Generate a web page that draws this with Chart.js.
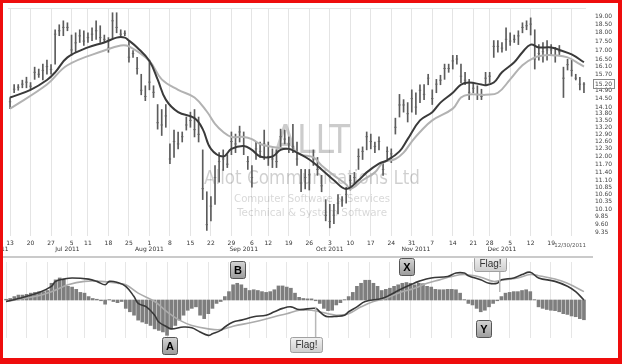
<!DOCTYPE html>
<html>
<head>
<meta charset="utf-8">
<script src="https://cdn.jsdelivr.net/npm/chart.js@4.4.0/dist/chart.umd.min.js"></script>
<style>
  html, body { margin: 0; padding: 0; }
  body { width: 622px; height: 364px; background: #ee0d0d; position: relative; overflow: hidden; }
  #frame { position: absolute; left: 3px; top: 3px; width: 615px; height: 355px; background: #fff; }
  #priceChart { position: absolute; left: 0; top: 0; }
  #sep { position: absolute; left: 0; top: 253px; width: 590px; height: 2px; background: #cacaca; }
  #macdChart { position: absolute; left: 0; top: 255px; }
</style>
</head>
<body>
<div id="frame">
  <canvas id="priceChart" width="615" height="254"></canvas>
  <div id="sep"></div>
  <canvas id="macdChart" width="615" height="100"></canvas>
</div>
<script>
// trading days, Jun 13 - Dec 30 2011
const junDays = [13,14,15,16,17,20,21,22,23,24,27,28,29,30];
const julDays = [1,5,6,7,8,11,12,13,14,15,18,19,20,21,22,25,26,27,28,29];
const augDays = [1,2,3,4,5,8,9,10,11,12,15,16,17,18,19,22,23,24,25,26,29,30,31];
const sepDays = [1,2,6,7,8,9,12,13,14,15,16,19,20,21,22,23,26,27,28,29,30];
const octDays = [3,4,5,6,7,10,11,12,13,14,17,18,19,20,21,24,25,26,27,28,31];
const novDays = [1,2,3,4,7,8,9,10,11,14,15,16,17,18,21,22,23,25,28,29,30];
const decDays = [1,2,5,6,7,8,9,12,13,14,15,16,19,20,21,22,23,27,28,29,30];

const dates = [].concat(
    junDays.map(d => 'Jun ' + d),
    julDays.map(d => 'Jul ' + d),
    augDays.map(d => 'Aug ' + d),
    sepDays.map(d => 'Sep ' + d),
    octDays.map(d => 'Oct ' + d),
    novDays.map(d => 'Nov ' + d),
    decDays.map(d => 'Dec ' + d)
);

// axis labels
const dayTickIdx = [0,5,10,15,19,24,29,34,39,44,49,54,59,63,68,73,78,83,88,93,98,103,108,113,117,122,127,132,137];
const dayTickLabels = ['13','20','27','5','11','18','25','1','8','15','22','29','6','12','19','26','3','10','17','24','31','7','14','21','28','5','12','19',''];
const monthTickIdx = [14,34,57,78,99,120];
const monthTickLabels = ['Jul 2011','Aug 2011','Sep 2011','Oct 2011','Nov 2011','Dec 2011'];
const yTicks = [19.00,18.50,18.00,17.50,17.00,16.50,16.10,15.70,15.20,14.90,14.50,14.10,13.80,13.50,13.20,12.90,12.60,12.30,12.00,11.70,11.40,11.10,10.85,10.60,10.35,10.10,9.85,9.60,9.35];

// daily price bars
const highs = [14.55,15.18,15.18,15.40,15.55,15.28,16.07,15.97,16.23,16.44,
    16.20,18.16,18.46,18.70,18.58,17.85,17.98,18.16,18.10,17.98,
    18.28,18.70,18.40,17.85,17.70,19.20,19.20,18.16,18.10,17.53,
    16.97,16.59,15.70,15.12,16.44,15.12,14.22,13.99,14.22,12.50,
    13.08,13.00,13.00,13.65,13.87,13.99,13.65,12.26,10.69,10.52,
    11.65,12.15,12.26,12.07,13.00,12.91,13.25,13.00,12.00,11.65,
    12.58,12.58,13.08,12.58,12.30,12.26,13.12,13.08,12.79,13.33,
    12.58,11.50,11.50,11.50,12.26,11.96,11.28,10.42,10.26,10.26,
    10.59,10.52,10.85,11.28,11.39,12.30,12.38,13.00,12.91,12.58,
    12.79,11.76,12.38,12.30,13.60,14.70,14.45,14.31,14.92,14.78,
    15.17,15.18,15.70,14.92,15.44,15.65,16.23,16.23,16.70,16.70,
    16.23,15.80,15.44,15.28,15.12,14.95,15.80,15.80,17.53,17.53,
    17.42,18.28,17.98,17.85,18.10,18.58,18.70,18.88,18.16,17.30,
    17.42,17.53,17.30,17.14,17.25,16.07,16.49,16.44,15.70,15.54,
    15.28];
const lows = [14.03,14.78,14.90,15.02,15.02,14.95,15.44,15.54,15.41,15.70,
    15.70,16.23,17.81,17.81,18.10,16.70,16.87,17.42,17.25,17.42,
    17.53,17.60,17.42,17.42,16.87,17.60,17.98,17.70,17.81,16.33,
    16.59,15.70,14.68,14.40,14.92,14.55,13.12,12.85,13.20,11.72,
    11.96,12.30,12.58,13.08,13.20,12.79,12.58,10.42,9.42,9.72,
    10.26,11.03,11.46,11.57,12.07,12.15,12.58,12.07,11.50,10.85,
    11.88,11.96,11.88,11.65,11.57,11.57,12.30,12.50,12.15,12.15,
    11.65,10.69,10.79,10.75,11.65,11.28,10.69,9.72,9.50,9.63,
    9.94,10.19,10.30,10.75,10.95,11.50,11.88,12.26,12.30,12.15,
    12.26,11.28,11.88,11.76,12.91,13.65,13.87,13.43,13.87,13.77,
    14.31,14.45,15.17,14.22,14.78,15.17,15.44,15.80,15.97,16.23,
    15.28,15.17,14.45,14.78,14.45,14.45,15.17,15.28,16.59,16.87,
    16.87,16.97,17.25,17.42,17.30,17.98,18.16,17.85,15.97,16.44,
    16.33,16.44,16.75,16.33,16.70,14.55,15.92,15.60,15.41,14.92,
    14.78];
const closes = [14.35,14.95,15.05,15.20,15.30,15.10,15.80,15.70,15.90,16.10,
    15.95,17.90,18.10,18.30,18.30,17.00,17.40,17.80,17.50,17.70,
    17.90,18.10,17.70,17.60,17.10,18.70,18.30,17.90,17.95,16.60,
    16.80,16.00,14.90,14.60,15.30,14.80,13.40,13.30,13.70,11.90,
    12.60,12.50,12.80,13.30,13.50,13.10,12.90,10.80,9.60,10.20,
    11.20,11.80,11.90,11.70,12.60,12.50,13.00,12.40,11.80,11.20,
    12.30,12.20,12.50,12.00,11.90,11.80,12.80,12.70,12.50,12.40,
    11.90,11.00,11.20,11.30,11.90,11.50,10.90,9.90,9.70,9.90,
    10.30,10.40,10.60,11.10,11.20,12.00,12.20,12.80,12.60,12.40,
    12.60,11.50,12.20,12.10,13.20,14.20,14.20,13.80,14.50,14.10,
    14.90,14.70,15.50,14.50,15.20,15.40,16.00,16.00,16.40,16.50,
    15.60,15.40,14.80,15.00,14.70,14.60,15.50,15.60,17.20,17.20,
    17.10,17.60,17.50,17.60,17.80,18.30,18.40,18.50,16.50,16.80,
    16.90,17.00,17.00,16.70,16.90,15.50,16.20,15.90,15.50,15.20,
    15.20];

// moving averages (day index, price)
const fastMaDay = [0,5,9,11,14,19,23,26,28,29,31,34,36,38,41,45,47,49,52,54,57,59,61,64,66,68,70,73,76,79,82,85,87,90,92,95,97,100,103,105,108,110,112,115,116,118,120,123,125,127,129,132,134,137,140];
const fastMaVal = [14.55,14.92,15.41,15.80,16.59,17.14,17.42,17.70,17.70,17.53,17.14,16.40,15.44,14.45,13.87,13.60,13.12,12.30,12.00,12.30,12.42,12.26,12.00,12.00,12.26,12.30,12.15,11.88,11.50,11.10,10.79,11.10,11.39,11.72,11.85,12.20,12.70,13.50,13.87,14.31,14.78,15.18,15.28,15.18,15.15,15.28,15.80,16.33,16.87,17.30,17.14,17.14,17.00,16.75,16.33];
const slowMaDay = [0,9,14,23,27,29,34,37,41,45,48,50,52,54,57,59,61,64,69,71,74,76,79,82,83,86,89,91,94,96,98,100,103,108,110,112,115,116,119,122,125,128,130,133,136,139,140];
const slowMaVal = [14.03,15.18,16.17,16.97,17.25,17.20,16.40,15.44,14.92,14.55,13.90,13.35,13.00,12.79,12.79,12.70,12.50,12.38,12.26,12.07,11.96,11.65,11.28,10.95,10.79,11.10,11.39,11.76,11.90,12.15,12.60,13.00,13.50,14.03,14.55,14.70,14.68,14.68,14.78,15.44,16.17,16.59,16.70,16.70,16.59,16.23,16.10];

// MACD panel
const histVals = [0.02,0.04,0.09,0.13,0.13,0.15,0.18,0.20,0.22,0.22,
    0.25,0.44,0.53,0.58,0.55,0.36,0.34,0.28,0.20,0.18,
    0.09,0.04,0.02,-0.02,-0.11,0.01,-0.04,-0.07,-0.04,-0.22,
    -0.31,-0.40,-0.53,-0.58,-0.62,-0.67,-0.76,-0.80,-0.84,-0.93,
    -0.76,-0.67,-0.53,-0.40,-0.27,-0.22,-0.18,-0.40,-0.49,-0.36,
    -0.22,-0.09,-0.04,0.09,0.22,0.40,0.44,0.40,0.31,0.25,
    0.27,0.25,0.22,0.20,0.22,0.27,0.37,0.37,0.34,0.31,
    0.18,0.07,0.04,0.03,0.03,-0.02,-0.09,-0.22,-0.28,-0.27,
    -0.13,-0.07,0.01,0.09,0.20,0.36,0.44,0.52,0.52,0.44,
    0.36,0.25,0.28,0.31,0.36,0.40,0.44,0.46,0.44,0.40,
    0.44,0.43,0.36,0.34,0.28,0.27,0.27,0.28,0.28,0.27,
    0.18,0.01,-0.09,-0.13,-0.22,-0.31,-0.27,-0.18,-0.09,-0.02,
    0.09,0.18,0.20,0.22,0.22,0.25,0.27,0.22,0.01,-0.18,
    -0.22,-0.25,-0.27,-0.28,-0.31,-0.36,-0.38,-0.42,-0.44,-0.49,
    -0.52];
const macdDay = [0,3,8,11,12,14,16,20,22,24,25,27,29,31,32,34,36,37,39,40,43,45,47,49,50,52,53,55,57,60,63,65,67,69,71,75,76,77,78,80,82,83,85,87,91,93,95,98,100,103,107,109,111,112,115,117,119,120,123,125,127,129,133,136,138,140];
const macdVal = [-0.04,0.04,0.20,0.36,0.49,0.55,0.58,0.55,0.49,0.40,0.49,0.46,0.36,0.09,-0.09,-0.18,-0.40,-0.58,-0.71,-0.76,-0.71,-0.73,-0.84,-0.93,-0.89,-0.80,-0.71,-0.58,-0.53,-0.44,-0.40,-0.31,-0.22,-0.18,-0.25,-0.22,-0.31,-0.40,-0.44,-0.43,-0.40,-0.31,-0.18,-0.04,0.04,0.13,0.25,0.40,0.49,0.58,0.62,0.71,0.71,0.64,0.53,0.44,0.44,0.53,0.58,0.67,0.73,0.58,0.49,0.36,0.22,0.00];
const signalDay = [0,7,11,15,19,23,27,29,32,36,39,42,45,49,52,55,60,65,68,71,74,78,80,83,86,89,92,95,99,102,105,108,111,115,118,120,124,127,129,133,136,140];
const signalVal = [-0.04,0.09,0.22,0.40,0.49,0.49,0.44,0.40,0.18,-0.04,-0.31,-0.53,-0.67,-0.76,-0.78,-0.69,-0.58,-0.44,-0.36,-0.27,-0.27,-0.36,-0.40,-0.36,-0.18,-0.04,0.04,0.18,0.31,0.44,0.53,0.62,0.67,0.60,0.49,0.52,0.58,0.67,0.64,0.55,0.44,0.22];

// chart notes on the MACD panel
const noteText = ['A','B','Flag!','X','Flag!','Y'];
const noteDay = [39.5,56,72.6,97.1,117.2,115.7];
const noteVal = [-1.21,0.79,-1.18,0.89,0.95,-0.76];
const noteTipDay = [null,null,75,null,119.6,null];
const noteTipVal = [null,null,-0.18,null,0.21,null];

function sparse(days, vals) {
    const out = dates.map(() => null);
    days.forEach((d, k) => { out[d] = vals[k]; });
    return out;
}

const weekSet = new Set(dayTickIdx);
const dayLabelOf = {};
dayTickIdx.forEach((d, k) => { dayLabelOf[d] = dayTickLabels[k]; });
const monthLabelOf = {};
monthTickIdx.forEach((d, k) => { monthLabelOf[d] = monthTickLabels[k]; });
const axisTickIdx = Array.from(new Set(dayTickIdx.concat(monthTickIdx))).sort((a, b) => a - b);

const smallFont = { family: 'DejaVu Sans', size: 6, lineHeight: '6.5px' };

const priceDecor = {
    id: 'priceDecor',
    beforeDatasetsDraw(chart) {
        const { ctx, chartArea: ca } = chart;
        const cx = ca.left + ca.width * 0.526;
        const marks = [
            ['ALLT', 39, 76, 150, 'rgba(0,0,0,0.2)'],
            ['Allot Communications Ltd', 20, 216, 181, 'rgba(0,0,0,0.19)'],
            ['Computer Software & Services', 11, 156, 198.5, 'rgba(0,0,0,0.16)'],
            ['Technical & System Software', 11, 150, 213, 'rgba(0,0,0,0.16)']
        ];
        ctx.save();
        ctx.textAlign = 'center';
        ctx.textBaseline = 'alphabetic';
        marks.forEach(m => {
            ctx.font = m[1] + 'px "DejaVu Sans"';
            const w = ctx.measureText(m[0]).width;
            ctx.save();
            ctx.translate(cx, m[3]);
            ctx.scale(m[2] / w, 1);
            ctx.fillStyle = m[4];
            ctx.fillText(m[0], 0, 0);
            ctx.restore();
        });
        // top rule
        ctx.strokeStyle = '#e4e4e4';
        ctx.lineWidth = 1;
        ctx.beginPath();
        ctx.moveTo(ca.left, ca.top + 0.5);
        ctx.lineTo(ca.right, ca.top + 0.5);
        ctx.stroke();
        ctx.restore();
    },
    afterDraw(chart) {
        const { ctx, chartArea: ca } = chart;
        const xs = chart.scales.x, ys = chart.scales.y;
        ctx.save();
        // last price marker on the axis
        const py = ys.getPixelForValue(closes[closes.length - 1]);
        ctx.strokeStyle = '#8a8a8a';
        ctx.lineWidth = 1;
        ctx.strokeRect(ca.right + 7.5, Math.round(py) - 4.5, 21, 9);
        // clipped month label and end date
        ctx.fillStyle = '#333';
        ctx.font = '6px "DejaVu Sans"';
        ctx.textAlign = 'center';
        ctx.textBaseline = 'middle';
        ctx.fillText('Jun 2011', xs.getPixelForValue(-3.6), xs.top + 4 + 6.5 * 1.5);
        ctx.font = '5.5px "DejaVu Sans"';
        ctx.textAlign = 'right';
        ctx.fillStyle = '#555';
        ctx.fillText('12/30/2011', xs.getPixelForValue(dates.length - 1) + 2, xs.top + 10);
        ctx.restore();
    }
};

new Chart(document.getElementById('priceChart'), {
    type: 'bar',
    data: {
        labels: dates,
        datasets: [
            { type: 'line', label: 'Fast MA', data: sparse(fastMaDay, fastMaVal), borderColor: '#3a3a3a', borderWidth: 2, pointRadius: 0, tension: 0.4, spanGaps: true, order: 0 },
            { type: 'line', label: 'Slow MA', data: sparse(slowMaDay, slowMaVal), borderColor: '#b2b2b2', borderWidth: 2, pointRadius: 0, tension: 0.4, spanGaps: true, order: 1 },
            { type: 'line', label: 'Close', data: closes, showLine: false, pointStyle: 'line', pointRadius: 1.2, borderColor: '#666', borderWidth: 1, order: 2 },
            { type: 'bar', label: 'Range', data: lows.map((l, i) => [l, highs[i]]), backgroundColor: '#5c5c5c', barThickness: 1, order: 3 }
        ]
    },
    options: {
        responsive: false,
        animation: false,
        devicePixelRatio: 1,
        layout: { padding: { left: 1, top: 2, right: 0, bottom: 0 } },
        plugins: { legend: { display: false }, tooltip: { enabled: false } },
        scales: {
            x: {
                type: 'category',
                offset: true,
                grid: {
                    offset: false,
                    drawTicks: false,
                    color: c => (c.tick && weekSet.has(c.tick.value)) ? '#e4e4e4' : 'rgba(0,0,0,0)'
                },
                border: { display: false },
                afterBuildTicks: s => { s.ticks = axisTickIdx.map(v => ({ value: v })); },
                afterFit: s => { s.paddingLeft = 0; s.paddingRight = 0; },
                ticks: {
                    autoSkip: false,
                    maxRotation: 0,
                    padding: 4,
                    color: '#333',
                    font: smallFont,
                    callback: v => [dayLabelOf[v] || '', monthLabelOf[v] || '']
                }
            },
            y: {
                type: 'logarithmic',
                position: 'right',
                min: 9.25,
                max: 19.5,
                grid: { display: false, drawTicks: false },
                border: { display: false },
                afterBuildTicks: s => { s.ticks = yTicks.map(v => ({ value: v })); },
                afterFit: s => { s.width = 32; s.paddingTop = 0; s.paddingBottom = 0; },
                ticks: {
                    autoSkip: false,
                    padding: 9,
                    color: '#444',
                    font: { family: 'DejaVu Sans', size: 6 },
                    callback: v => Number(v).toFixed(2)
                }
            }
        }
    },
    plugins: [priceDecor]
});

const macdNotes = {
    id: 'macdNotes',
    afterDraw(chart) {
        const ctx = chart.ctx, xs = chart.scales.x, ys = chart.scales.y;
        ctx.save();
        noteText.forEach((t, k) => {
            const cx = xs.getPixelForValue(noteDay[k]);
            const cy = ys.getPixelForValue(noteVal[k]);
            const flag = t.length > 1;
            const w = flag ? 32 : 15, h = flag ? 15 : 17;
            if (noteTipDay[k] !== null) {
                ctx.strokeStyle = '#b8b8b8';
                ctx.lineWidth = 1.5;
                ctx.beginPath();
                ctx.moveTo(xs.getPixelForValue(noteTipDay[k]), cy);
                ctx.lineTo(xs.getPixelForValue(noteTipDay[k]), ys.getPixelForValue(noteTipVal[k]));
                ctx.stroke();
            }
            const x0 = Math.round(cx - w / 2) + 0.5, y0 = Math.round(cy - h / 2) + 0.5;
            const g = ctx.createLinearGradient(0, y0, 0, y0 + h);
            if (flag) {
                g.addColorStop(0, '#f2f2f2');
                g.addColorStop(1, '#cdcdcd');
            } else {
                g.addColorStop(0, '#d4d4d4');
                g.addColorStop(1, '#9c9c9c');
            }
            ctx.fillStyle = g;
            ctx.strokeStyle = flag ? '#a0a0a0' : '#555';
            ctx.lineWidth = 1;
            ctx.beginPath();
            ctx.roundRect(x0, y0, w, h, 2);
            ctx.fill();
            ctx.stroke();
            ctx.fillStyle = flag ? '#333' : '#000';
            ctx.font = flag ? '10px "Liberation Sans"' : 'bold 11px "Liberation Sans"';
            ctx.textAlign = 'center';
            ctx.textBaseline = 'middle';
            ctx.fillText(t, x0 + w / 2, y0 + h / 2 + 0.5);
        });
        ctx.restore();
    }
};

new Chart(document.getElementById('macdChart'), {
    type: 'bar',
    data: {
        labels: dates,
        datasets: [
            { type: 'line', label: 'MACD', data: sparse(macdDay, macdVal), borderColor: '#383838', borderWidth: 1.6, pointRadius: 0, tension: 0.4, spanGaps: true, order: 0 },
            { type: 'line', label: 'Signal', data: sparse(signalDay, signalVal), borderColor: '#ababab', borderWidth: 1.6, pointRadius: 0, tension: 0.4, spanGaps: true, order: 1 },
            { type: 'bar', label: 'Histogram', data: histVals, backgroundColor: '#7e7e7e', barThickness: 3, order: 2 }
        ]
    },
    options: {
        responsive: false,
        animation: false,
        devicePixelRatio: 1,
        layout: { padding: { left: 1, top: 4, right: 32, bottom: 20 } },
        plugins: { legend: { display: false }, tooltip: { enabled: false } },
        scales: {
            x: {
                type: 'category',
                offset: true,
                grid: { offset: false, drawTicks: false, color: '#e6e6e6' },
                border: { display: false },
                ticks: { display: false },
                afterBuildTicks: s => { s.ticks = dayTickIdx.map(v => ({ value: v })); },
                afterFit: s => { s.paddingLeft = 0; s.paddingRight = 0; }
            },
            y: { display: false, min: -1, max: 1 }
        }
    },
    plugins: [macdNotes]
});
</script>
</body>
</html>
